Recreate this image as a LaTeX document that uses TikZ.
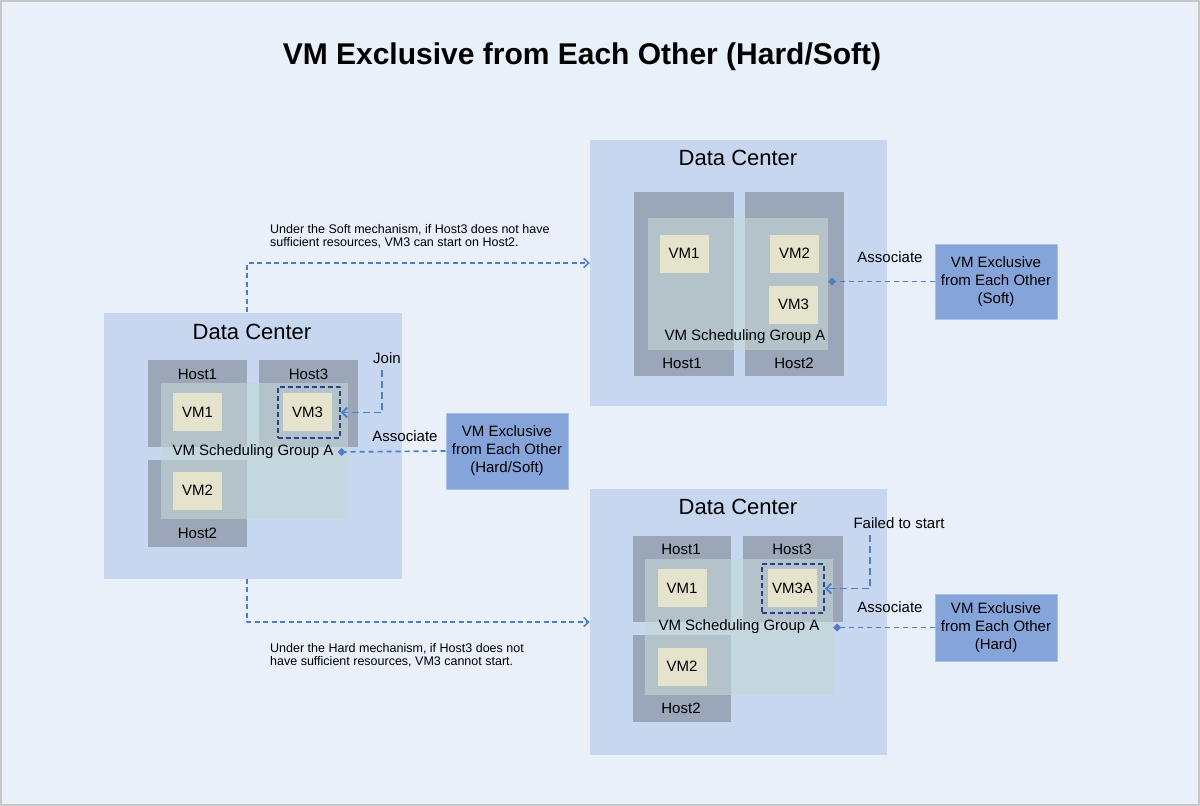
\documentclass[tikz,border=0pt]{standalone}
\usepackage{fontspec}
\setmainfont{Liberation Sans}
\usetikzlibrary{arrows.meta}

\definecolor{bgblue}{RGB}{233,240,250}
\definecolor{dcblue}{RGB}{200,215,240}
\definecolor{hostgray}{RGB}{155,166,184}
\definecolor{grpteal}{RGB}{195,214,212}
\definecolor{vmbeige}{RGB}{230,227,205}
\definecolor{polblue}{RGB}{132,164,218}
\definecolor{polrim}{RGB}{170,192,232}
\definecolor{linkblue}{RGB}{80,124,204}
\definecolor{darkdash}{RGB}{40,70,140}

\tikzset{
	dcbox/.style={fill=dcblue, minimum width=297pt, minimum height=266pt, inner sep=0pt},
	hostbox/.style={fill=hostgray, inner sep=0pt},
	grpbox/.style={fill=grpteal, fill opacity=0.62, inner sep=0pt},
	vmbox/.style={fill=vmbeige, minimum width=49pt, minimum height=38pt, inner sep=0pt, font=\fontsize{15}{18}\selectfont},
	vmdash/.style={draw=darkdash, line width=1.8pt, dash pattern=on 5pt off 3pt, minimum width=62pt, inner sep=0pt},
	polbox/.style={fill=polblue, draw=polrim, line width=1pt, minimum width=122pt, inner sep=0pt, align=center, font=\fontsize{15}{18}\selectfont},
	lbl/.style={font=\fontsize{15}{18}\selectfont, inner sep=0pt},
	dctitle/.style={font=\fontsize{22}{26}\selectfont, inner sep=0pt},
	note/.style={font=\fontsize{12.5}{13}\selectfont, align=left, anchor=west, inner sep=0pt},
	flow/.style={draw=linkblue, line width=1.5pt, dash pattern=on 5pt off 3.5pt, -{Straight Barb[length=5pt,width=9pt]}},
	hint/.style={draw=linkblue, line width=1.9pt, dash pattern=on 7pt off 4pt, -{Straight Barb[length=5pt,width=10pt]}},
	assoc/.style={draw=linkblue, line width=1.7pt, dash pattern=on 5pt off 4pt, -{Diamond[length=8pt,width=8pt]}},
}

\begin{document}
\begin{tikzpicture}[x=1pt, y=-1pt, line join=round]

	% background and frame
	\fill[bgblue] (0,0) rectangle (1200,806);
	\draw[gray!45, line width=2pt] (1,1) rectangle (1199,805);
	\useasboundingbox (0,0) rectangle (1200,806);

	\node[font=\fontsize{30}{36}\selectfont\bfseries, inner sep=0pt] (title) at (582,57) {VM Exclusive from Each Other (Hard/Soft)};

	% left data center
	\node[dcbox, minimum width=298pt] (l-dc) at (253,445.5) {};
	\node[dctitle] (l-dc-txt) at (252,332) {Data Center};
	\node[hostbox, minimum width=99pt, minimum height=87pt] (l-h1) at (197.5,403.5) {};
	\node[hostbox, minimum width=99pt, minimum height=87pt] (l-h3) at (308.5,403.5) {};
	\node[hostbox, minimum width=99pt, minimum height=87pt] (l-h2) at (197.5,503.5) {};
	\node[lbl] (l-h1-txt) at (197.5,374) {Host1};
	\node[lbl] (l-h3-txt) at (308.5,374) {Host3};
	\node[lbl] (l-h2-txt) at (197.5,533) {Host2};
	\node[grpbox, minimum width=187pt, minimum height=136pt] (l-grp) at (254.5,451) {};
	\node[vmbox] (l-vm1) at (197.5,412) {VM1};
	\node[vmbox] (l-vm3) at (307.5,412) {VM3};
	\node[vmbox] (l-vm2) at (197.5,490.5) {VM2};
	\node[vmdash, minimum height=51pt] (l-vm3d) at (309,412.5) {};
	\node[lbl, inner xsep=4pt] (l-grp-txt) at (253,452) {VM Scheduling Group A};

	\node[lbl] (l-join) at (387,358) {Join};
	\coordinate (l-join-pt) at (382,370);
	\node[lbl] (l-assoc) at (405,436) {Associate};
	\node[polbox, minimum height=76pt] (l-pol) at (507,451) {VM Exclusive\\from Each Other\\(Hard/Soft)};

	\draw[hint] (l-join-pt) |- (l-vm3d.east);
	\draw[assoc] (l-pol.west) -- (l-grp-txt.east);

	% top right data center (soft)
	\node[dcbox] (s-dc) at (738.5,273) {};
	\node[dctitle] (s-dc-txt) at (738,158) {Data Center};
	\node[hostbox, minimum width=100pt, minimum height=184pt] (s-h1) at (684,284) {};
	\node[hostbox, minimum width=99pt, minimum height=184pt] (s-h2) at (794.5,284) {};
	\node[grpbox, minimum width=180pt, minimum height=132pt] (s-grp) at (738,284) {};
	\node[vmbox] (s-vm1) at (684,253.5) {VM1};
	\node[vmbox] (s-vm2) at (794.5,253.5) {VM2};
	\node[vmbox] (s-vm3) at (793.5,304.5) {VM3};
	\node[lbl] (s-grp-txt) at (745,337) {VM Scheduling Group A};
	\node[lbl] (s-h1-txt) at (682,363) {Host1};
	\node[lbl] (s-h2-txt) at (794,363) {Host2};

	\node[lbl] (s-assoc) at (890,257) {Associate};
	\node[polbox, minimum height=75pt] (s-pol) at (996,281.5) {VM Exclusive\\from Each Other\\(Soft)};
	\draw[assoc] (s-pol.west) -- (s-pol.west -| s-grp.east);

	% bottom right data center (hard)
	\node[dcbox] (h-dc) at (738.5,622) {};
	\node[dctitle] (h-dc-txt) at (738,507) {Data Center};
	\node[hostbox, minimum width=98pt, minimum height=86pt] (h-h1) at (682,579) {};
	\node[hostbox, minimum width=100pt, minimum height=86pt] (h-h3) at (793,579) {};
	\node[hostbox, minimum width=98pt, minimum height=87pt] (h-h2) at (682,678.5) {};
	\node[lbl] (h-h1-txt) at (681,549) {Host1};
	\node[lbl] (h-h3-txt) at (792,549) {Host3};
	\node[lbl] (h-h2-txt) at (681,708) {Host2};
	\node[grpbox, minimum width=188pt, minimum height=136pt] (h-grp) at (739,627) {};
	\node[vmbox] (h-vm1) at (682,588) {VM1};
	\node[vmbox] (h-vm3) at (792.5,588) {VM3A};
	\node[vmbox] (h-vm2) at (682,666.5) {VM2};
	\node[vmdash, minimum height=49pt] (h-vm3d) at (793,588.5) {};
	\node[lbl] (h-grp-txt) at (739,627) {VM Scheduling Group A};

	\node[lbl] (h-fail) at (899,523) {Failed to start};
	\coordinate (h-fail-pt) at (870,535);
	\node[lbl] (h-assoc) at (890,607) {Associate};
	\node[polbox, minimum height=67pt] (h-pol) at (996,627.5) {VM Exclusive\\from Each Other\\(Hard)};

	\draw[hint] (h-fail-pt) |- (h-vm3d.east);
	\draw[assoc] (h-pol.west) -- (h-pol.west -| h-grp.east);

	% soft and hard outcomes
	\coordinate (soft-turn) at (247,263);
	\coordinate (hard-turn) at (247,622);
	\node[note] (soft-txt) at (270,236.5) {Under the Soft mechanism, if Host3 does not have\\sufficient resources, VM3 can start on Host2.};
	\node[note] (hard-txt) at (270,655) {Under the Hard mechanism, if Host3 does not\\have sufficient resources, VM3 cannot start.};

	\draw[flow] (l-dc.north -| soft-turn) -- (soft-turn) -- (soft-turn -| s-dc.west);
	\draw[flow] (l-dc.south -| hard-turn) |- (h-dc.west);

\end{tikzpicture}
\end{document}
